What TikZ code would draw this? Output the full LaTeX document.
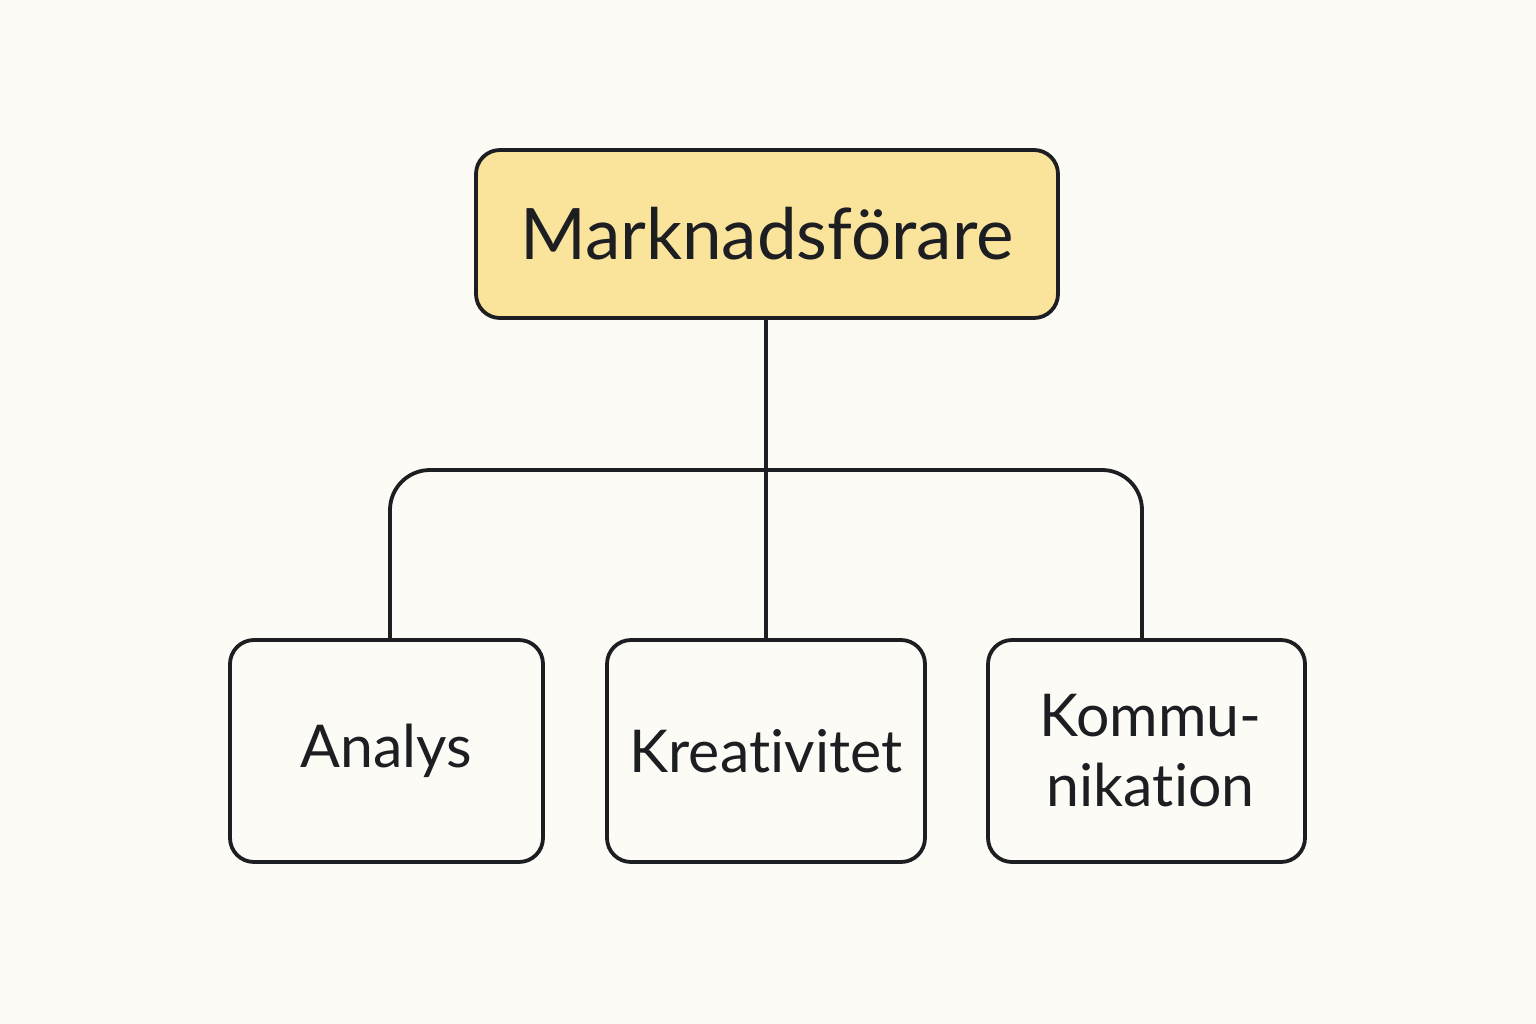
\documentclass[tikz,border=0pt]{standalone}
\usepackage{fontspec}
\setmainfont{Lato}[RawFeature={-liga;-dlig;-clig}]
\definecolor{bg}{HTML}{FDFBF5}
\definecolor{topfill}{HTML}{FAE49C}
\definecolor{ink}{HTML}{1C1E22}
\begin{document}
\begin{tikzpicture}[x=1pt,y=-1pt,
  box/.style={draw=ink,line width=3.8pt,rounded corners=24pt,align=center,text=ink,inner sep=0pt},
  conn/.style={draw=ink,line width=3.8pt}]
\fill[bg] (0,0) rectangle (1536,1024);
\useasboundingbox (0,0) rectangle (1536,1024);
\node[box,fill=topfill,minimum width=582pt,minimum height=168pt,font=\fontsize{71}{84}\selectfont] (top) at (767,234) {Marknadsförare};
\node[box,fill=bg,minimum width=313pt,minimum height=222pt,font=\fontsize{59}{72}\selectfont] (ana) at (386.5,751) {Analys};
\node[box,fill=bg,minimum width=318pt,minimum height=222pt,font=\fontsize{59}{72}\selectfont] (kre) at (766,751) {Krea\kern0ptti\kern0ptvitet};
\node[box,fill=bg,minimum width=317pt,minimum height=222pt,font=\fontsize{59}{72}\selectfont] (kom) at (1146.5,751) {\hspace*{8pt}Kommu-\\[-2pt]\hspace*{8pt}nika\kern0ptti\kern0pton};
\coordinate (j) at (766,470);
\draw[conn] (top.south -| kre.north) -- (kre.north);
\draw[conn,rounded corners=40pt] (ana.north -| 390,0) |- (j) -| (kom.north -| 1142,0);
\end{tikzpicture}
\end{document}
